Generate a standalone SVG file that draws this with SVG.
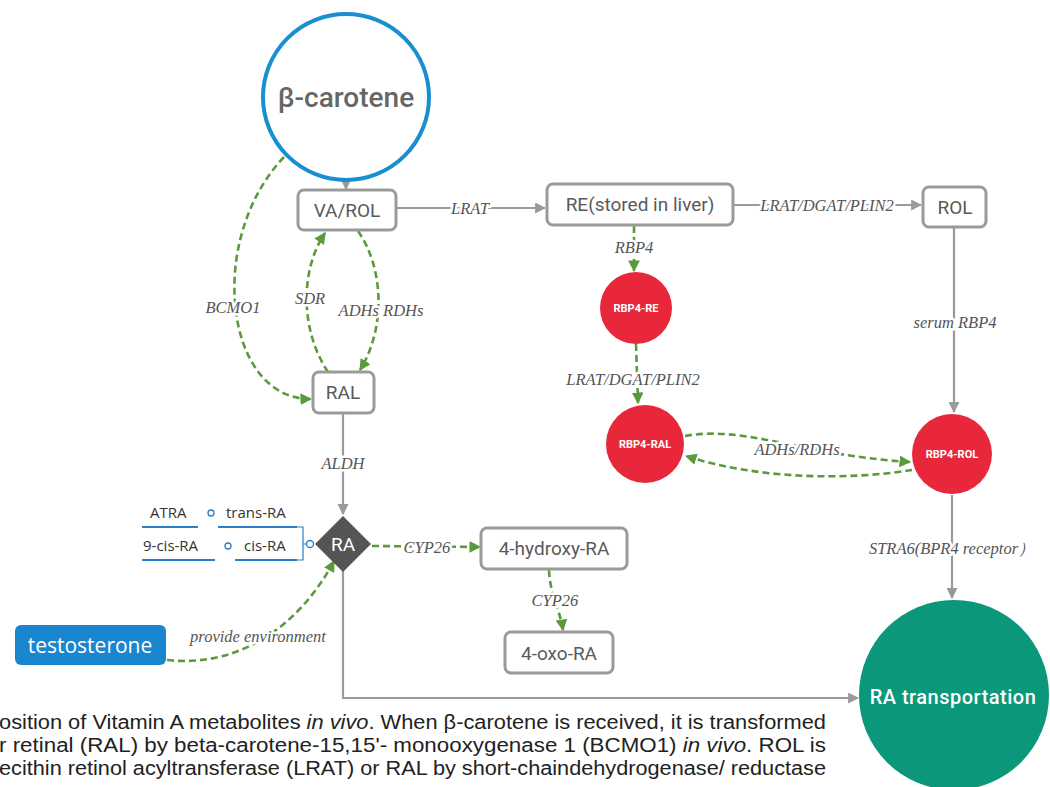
<svg xmlns="http://www.w3.org/2000/svg" width="1050" height="787" viewBox="0 0 1050 787">
<defs>
<marker id="ga" viewBox="0 0 10 10" refX="9" refY="5" markerWidth="5" markerHeight="5" orient="auto" markerUnits="strokeWidth"><path d="M0,0 L10,5 L0,10 z" fill="#9a9a9a"/></marker>
<marker id="gr" viewBox="0 0 10 10" refX="9" refY="5" markerWidth="4.5" markerHeight="4.5" orient="auto" markerUnits="strokeWidth"><path d="M0,0 L10,5 L0,10 z" fill="#5b9a3c"/></marker>
</defs>
<style>
.box{fill:#fff;stroke:#9a9a9a;stroke-width:3}
.nt{font-family:Roboto,"Liberation Sans",sans-serif;fill:#5a5a5a;text-anchor:middle;dominant-baseline:central}
.wt{fill:#fff}
.gl{fill:none;stroke:#9a9a9a;stroke-width:2.2}
.dl{fill:none;stroke:#5b9a3c;stroke-width:2.6;stroke-dasharray:7,4}
.lb{font-family:"Liberation Serif",serif;font-style:italic;font-size:16.5px;fill:#555;text-anchor:middle;dominant-baseline:central;stroke:#fff;stroke-width:5;paint-order:stroke;stroke-linejoin:round}
.red{fill:#e8283a}
.rt{font-family:Roboto,"Liberation Sans",sans-serif;font-weight:bold;font-size:11px;fill:#fff;text-anchor:middle;dominant-baseline:central}
.cap{font-family:"Liberation Sans",Arial,sans-serif;font-size:20px;fill:#222}
.st{font-family:"Open Sans","Liberation Sans",sans-serif;font-size:15px;fill:#333;dominant-baseline:central}
</style>
<g id="connectors">
<path class="gl" d="M346,181 L346,189" marker-end="url(#ga)"/>
<path class="gl" d="M396,208 L545,208" marker-end="url(#ga)"/>
<path class="gl" d="M733,205 L921,205" marker-end="url(#ga)"/>
<path class="gl" d="M954,228 L954,412" marker-end="url(#ga)"/>
<path class="gl" d="M952,495 L952,598" marker-end="url(#ga)"/>
<path class="gl" d="M343,414 L343,514" marker-end="url(#ga)"/>
<path class="gl" d="M343,571 L343,698 L858,698" marker-end="url(#ga)"/>
<path class="dl" d="M284,157 C205,240 225,400 311,399" marker-end="url(#gr)"/>
<path class="dl" d="M328,372 C300,330 300,270 325,233" marker-end="url(#gr)"/>
<path class="dl" d="M358,231 C385,270 385,330 360,370" marker-end="url(#gr)"/>
<path class="dl" d="M634,226 L634,271" marker-end="url(#gr)"/>
<path class="dl" d="M636,344 L638,403" marker-end="url(#gr)"/>
<path class="dl" d="M685,436 C745,425 800,455 910,462" marker-end="url(#gr)"/>
<path class="dl" d="M912,470 C850,480 760,480 686,456" marker-end="url(#gr)"/>
<path class="dl" d="M372,546 L480,547" marker-end="url(#gr)"/>
<path class="dl" d="M549,570 C550,595 560,610 563,630" marker-end="url(#gr)"/>
<path class="dl" d="M167,660 C240,668 300,625 334,561" marker-end="url(#gr)"/>
<text class="lb" x="470" y="208">LRAT</text>
<text class="lb" x="827" y="205">LRAT/DGAT/PLIN2</text>
<text class="lb" x="634" y="247">RBP4</text>
<text class="lb" x="633" y="379">LRAT/DGAT/PLIN2</text>
<text class="lb" x="955" y="322">serum RBP4</text>
<text class="lb" x="797" y="449">ADHs/RDHs</text>
<text class="lb" x="952" y="548">STRA6(BPR4 receptor）</text>
<text class="lb" x="233" y="307">BCMO1</text>
<text class="lb" x="310" y="298">SDR</text>
<text class="lb" x="381" y="310">ADHs RDHs</text>
<text class="lb" x="343" y="463">ALDH</text>
<text class="lb" x="427" y="547">CYP26</text>
<text class="lb" x="555" y="600">CYP26</text>
<text class="lb" x="258" y="636">provide environment</text>
</g>
<g id="beta-carotene">
<circle cx="346" cy="97" r="83" fill="#fff" stroke="#1a8fd0" stroke-width="4"/>
<text class="nt" x="346" y="97" font-size="28" font-weight="500" style="fill:#666">β-carotene</text>
</g>
<g id="va-rol">
<rect class="box" x="298" y="190" width="98" height="40" rx="6"/>
<text class="nt" x="347" y="210" font-size="19">VA/ROL</text>
</g>
<g id="re">
<rect class="box" x="547" y="184" width="186" height="41" rx="6"/>
<text class="nt" x="640" y="204" font-size="19">RE(stored in liver)</text>
</g>
<g id="rol">
<rect class="box" x="923" y="187" width="63" height="40" rx="6"/>
<text class="nt" x="955" y="207" font-size="19">ROL</text>
</g>
<g id="rbp4-re">
<circle class="red" cx="636" cy="308" r="36"/>
<text class="rt" x="636" y="308">RBP4-RE</text>
</g>
<g id="rbp4-ral">
<circle class="red" cx="645" cy="444" r="39"/>
<text class="rt" x="645" y="444">RBP4-RAL</text>
</g>
<g id="rbp4-rol">
<circle class="red" cx="952" cy="454" r="40"/>
<text class="rt" x="952" y="454">RBP4-ROL</text>
</g>
<g id="ral">
<rect class="box" x="313" y="372" width="61" height="41" rx="6"/>
<text class="nt" x="343" y="392" font-size="19">RAL</text>
</g>
<g id="ra">
<path d="M343,516 L371,544 L343,572 L315,544 z" fill="#555"/>
<text class="nt wt" x="343" y="544" font-size="19" style="fill:#fff">RA</text>
</g>
<g id="ra-forms">
<text class="st" x="150" y="512">ATRA</text>
<circle cx="211" cy="513" r="3" fill="none" stroke="#2a7fc8" stroke-width="1.3"/>
<text class="st" x="226" y="512">trans-RA</text>
<path d="M142,527 L198,527 M218,527 L297,527" stroke="#2a7fc8" stroke-width="2" fill="none"/>
<text class="st" x="143" y="545">9-cis-RA</text>
<circle cx="228" cy="546" r="3" fill="none" stroke="#2a7fc8" stroke-width="1.3"/>
<text class="st" x="244" y="545">cis-RA</text>
<path d="M142,560 L215,560 M235,560 L297,560" stroke="#2a7fc8" stroke-width="2" fill="none"/>
<path d="M297,527 L303,527 L303,560 L297,560 M303,544 L306,544" stroke="#2a7fc8" stroke-width="1.2" fill="none"/>
<circle cx="310" cy="544" r="3.5" fill="#fff" stroke="#2a7fc8" stroke-width="1.3"/>
</g>
<g id="hydroxy-ra">
<rect class="box" x="481" y="528" width="146" height="41" rx="6"/>
<text class="nt" x="554" y="548" font-size="19">4-hydroxy-RA</text>
</g>
<g id="oxo-ra">
<rect class="box" x="505" y="632" width="108" height="41" rx="6"/>
<text class="nt" x="559" y="653" font-size="19">4-oxo-RA</text>
</g>
<g id="testosterone">
<rect x="15" y="625" width="151" height="40" rx="6" fill="#1a86d0"/>
<text x="90" y="645" font-family="'Open Sans','Liberation Sans',sans-serif" font-size="21" fill="#fff" text-anchor="middle" dominant-baseline="central">testosterone</text>
</g>
<g id="ra-transportation">
<circle cx="954" cy="695" r="95" fill="#0a977a"/>
<text class="nt" x="953" y="697" font-size="20" font-weight="500" style="fill:#fff;letter-spacing:0.5px">RA transportation</text>
</g>
<g id="caption">
<text class="cap" x="-1" y="729" textLength="827" lengthAdjust="spacingAndGlyphs">osition of Vitamin A metabolites <tspan font-style="italic">in vivo</tspan>. When β-carotene is received, it is transformed</text>
<text class="cap" x="-1" y="752" textLength="827" lengthAdjust="spacingAndGlyphs">r retinal (RAL) by beta-carotene-15,15'- monooxygenase 1 (BCMO1) <tspan font-style="italic">in vivo</tspan>. ROL is</text>
<text class="cap" x="-1" y="775" textLength="827" lengthAdjust="spacingAndGlyphs">ecithin retinol acyltransferase (LRAT) or RAL by short-chaindehydrogenase/ reductase</text>
</g>
</svg>
